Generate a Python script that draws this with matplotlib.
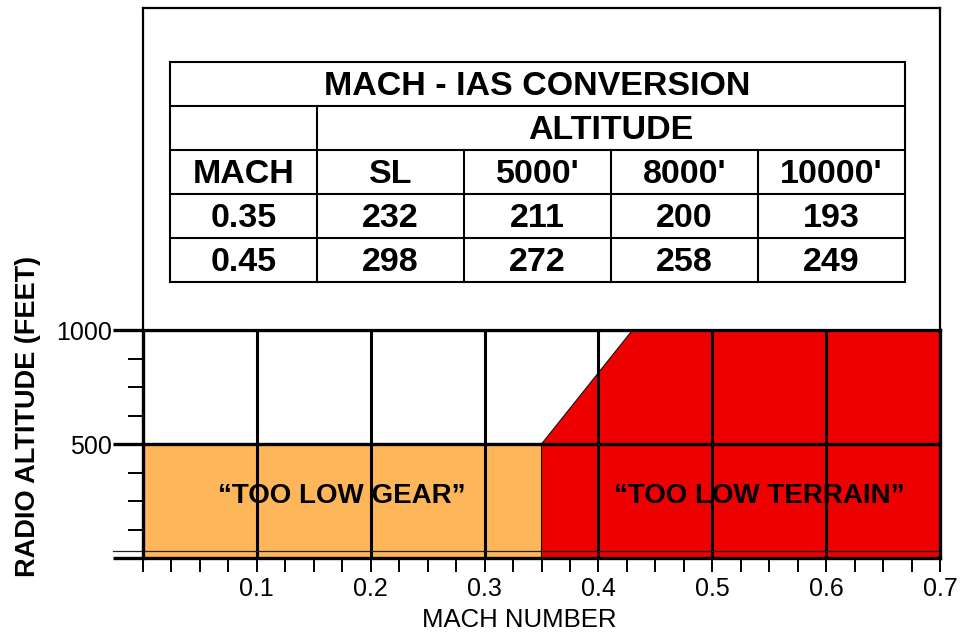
import matplotlib
matplotlib.use("Agg")
import matplotlib.pyplot as plt
from matplotlib.patches import Polygon, Rectangle
from matplotlib.transforms import blended_transform_factory

plt.rcParams['font.family'] = ['Liberation Sans', 'DejaVu Sans']

# Alert envelopes (Mach number vs radio altitude in feet)
gear_mach = [0.0, 0.35, 0.35, 0.0]
gear_alt = [0, 0, 500, 500]
terrain_mach = [0.35, 0.35, 0.43, 0.70, 0.70]
terrain_alt = [0, 500, 1000, 1000, 0]
floor_alt = 30

grid_mach = [0.1, 0.2, 0.3, 0.4, 0.5, 0.6]
x_major = [0.1, 0.2, 0.3, 0.4, 0.5, 0.6, 0.7]
x_labels = ['0.1', '0.2', '0.3', '0.4', '0.5', '0.6', '0.7']
x_minor = [0.0, 0.025, 0.05, 0.075, 0.125, 0.15, 0.175, 0.225, 0.25, 0.275,
           0.325, 0.35, 0.375, 0.425, 0.45, 0.475, 0.525, 0.55, 0.575,
           0.625, 0.65, 0.675]
y_major = [0, 500, 1000]
y_labels = ['', '500', '1000']
y_minor = [125, 250, 375, 625, 750, 875]

# Mach - IAS conversion table
table_title = 'MACH - IAS CONVERSION'
group_header = 'ALTITUDE'
col_headers = ['MACH', 'SL', "5000'", "8000'", "10000'"]
mach_rows = ['0.35', '0.45']
ias_mach_035 = [232, 211, 200, 193]
ias_mach_045 = [298, 272, 258, 249]

GEAR_COLOR = '#FDB65A'
TERRAIN_COLOR = '#EE0000'
THICK = 2.4

fig = plt.figure(figsize=(9.6, 6.37), dpi=100)

# ---- envelope chart ----
ax = fig.add_axes([143 / 960, 79 / 637, 797 / 960, 228 / 637])
ax.set_xlim(0, 0.7)
ax.set_ylim(0, 1000)

ax.add_patch(Polygon(list(zip(gear_mach, gear_alt)), closed=True,
                     facecolor=GEAR_COLOR, edgecolor='#333333', lw=0.8, zorder=1))
ax.add_patch(Polygon(list(zip(terrain_mach, terrain_alt)), closed=True,
                     facecolor=TERRAIN_COLOR, edgecolor='#111111', lw=0.8, zorder=1))

ax.vlines(grid_mach, 0, 1000, colors='black', lw=2.2, zorder=2)
ax.axhline(500, color='black', lw=THICK, zorder=2)

trans = blended_transform_factory(ax.transAxes, ax.transData)
ax.plot([-30 / 797, 1.0], [floor_alt, floor_alt], color='#222222', lw=0.9,
        transform=trans, clip_on=False, zorder=2)

for side in ['left', 'right', 'top', 'bottom']:
    ax.spines[side].set_linewidth(THICK)
    ax.spines[side].set_zorder(4)

ax.set_xticks(x_major)
ax.set_xticklabels(x_labels)
ax.set_xticks(x_minor, minor=True)
ax.set_yticks(y_major)
ax.set_yticklabels(y_labels)
ax.set_yticks(y_minor, minor=True)

ax.tick_params(axis='x', which='both', direction='out', length=10, width=1.4,
               labelsize=18, pad=4)
ax.tick_params(axis='y', which='major', direction='out', length=21.6, width=THICK,
               labelsize=18, pad=0.5)
ax.tick_params(axis='y', which='minor', direction='out', length=10.8, width=1.4)

ax.text(0.175, 272, '\u201cTOO LOW GEAR\u201d', ha='center', va='center',
        fontsize=20, fontweight='bold', zorder=5)
ax.text(0.541, 272, '\u201cTOO LOW TERRAIN\u201d', ha='center', va='center',
        fontsize=20, fontweight='bold', zorder=5)

ax.set_xlabel('MACH NUMBER', fontsize=18.5)
ax.xaxis.set_label_coords((519 - 143) / 797, (558 - 620) / 228)
ax.xaxis.label.set_va('center')
ax.set_ylabel('RADIO ALTITUDE (FEET)', fontsize=19.5, fontweight='bold')
ax.yaxis.set_label_coords((28 - 143) / 797, (558 - 416) / 228)
ax.yaxis.label.set_va('center')

# ---- conversion table panel ----
tax = fig.add_axes([143 / 960, 307 / 637, 797 / 960, 322 / 637])
tax.set_xlim(0, 797)
tax.set_ylim(322, 0)
tax.set_xticks([])
tax.set_yticks([])
for side in ['left', 'right', 'top', 'bottom']:
    tax.spines[side].set_linewidth(1.6)

col_edges = [27, 174, 321, 468, 615, 762]
row_edges = [54, 98, 142, 186, 230, 274]
TLW = 1.5
left, right = col_edges[0], col_edges[-1]
top, bottom = row_edges[0], row_edges[-1]

tax.add_patch(Rectangle((left, top), right - left, bottom - top,
                        fill=False, edgecolor='black', lw=TLW))
for y in row_edges[1:-1]:
    tax.plot([left, right], [y, y], color='black', lw=TLW)
tax.plot([col_edges[1], col_edges[1]], [row_edges[1], bottom], color='black', lw=TLW)
for x in col_edges[2:-1]:
    tax.plot([x, x], [row_edges[2], bottom], color='black', lw=TLW)

TFS = 24.5
TEXT_DROP = 2.5


def row_mid(i):
    return (row_edges[i] + row_edges[i + 1]) / 2 + TEXT_DROP


def col_mid(j):
    return (col_edges[j] + col_edges[j + 1]) / 2


tax.text((left + right) / 2, row_mid(0), table_title, ha='center', va='center',
         fontsize=TFS, fontweight='bold')
tax.text((col_edges[1] + right) / 2, row_mid(1), group_header, ha='center',
         va='center', fontsize=TFS, fontweight='bold')
for j, h in enumerate(col_headers):
    tax.text(col_mid(j), row_mid(2), h, ha='center', va='center',
             fontsize=TFS, fontweight='bold')
for i, (m, vals) in enumerate(zip(mach_rows, [ias_mach_035, ias_mach_045])):
    r = 3 + i
    tax.text(col_mid(0), row_mid(r), m, ha='center', va='center',
             fontsize=TFS, fontweight='bold')
    for j, v in enumerate(vals):
        tax.text(col_mid(j + 1), row_mid(r), str(v), ha='center', va='center',
                 fontsize=TFS, fontweight='bold')

fig.savefig('out.png', dpi=100)
